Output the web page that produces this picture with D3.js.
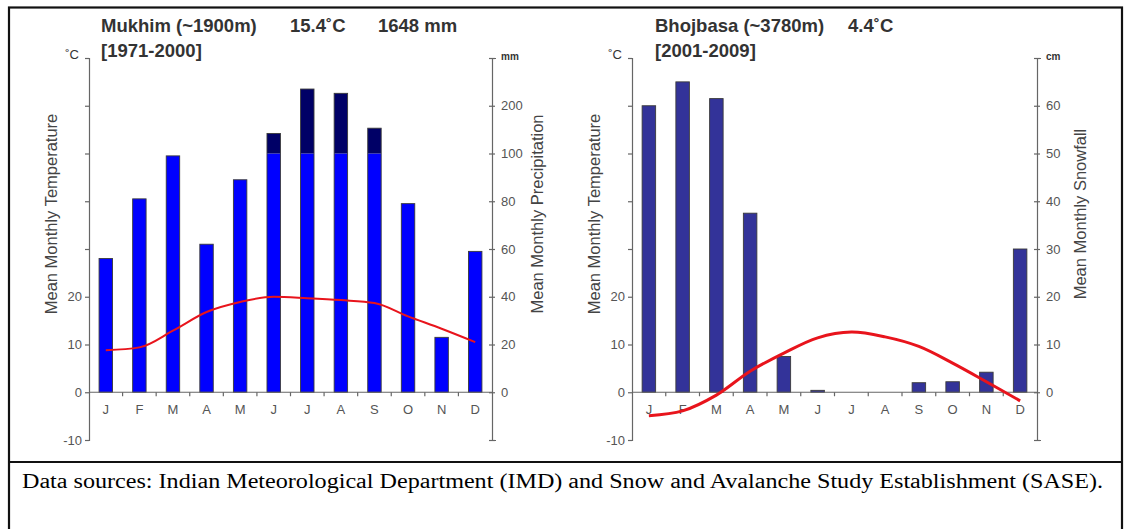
<!DOCTYPE html>
<html><head><meta charset="utf-8">
<script src="https://cdn.jsdelivr.net/npm/d3@7"></script>
<style>body{margin:0;background:#fff}svg{display:block}</style>
</head><body>
<svg id="c" width="1129" height="529"></svg>
<script>
// ---- data ----
const months = ["J","F","M","A","M","J","J","A","S","O","N","D"];
const mukhimPrecip = [56, 81, 99, 62, 89, 142, 235, 226, 153, 79, 23, 59];          // mm
const mukhimTemp   = [8.8, 9.4, 12.9, 16.8, 18.9, 20.0, 19.7, 19.3, 18.7, 15.9, 13.3, 10.5]; // °C
const bhojbasaSnow = [60, 65, 61.5, 37.5, 7.5, 0.4, 0, 0, 2, 2.2, 4.2, 30];           // cm
const bhojbasaTemp = [-4.9, -3.9, -0.6, 4.4, 8.2, 11.4, 12.6, 11.6, 9.6, 6.1, 2.2, -1.8]; // °C
const tempTicks   = [-10, 0, 10, 20, 30, 40, 50, 60, 70];
const tempLabels  = ["-10", "0", "10", "20", "", "", "", "", "˚C"];
const precipTicks = [-20, 0, 20, 40, 60, 80, 100, 200, 300];
const precipLabels= ["", "0", "20", "40", "60", "80", "100", "200", "mm"];
const snowTicks   = [-10, 0, 10, 20, 30, 40, 50, 60, 70];
const snowLabels  = ["", "0", "10", "20", "30", "40", "50", "60", "cm"];

const svg = d3.select("#c");
const FONT = "'Liberation Sans', Arial, sans-serif";
const GREY = "#555";

// outer frame
svg.append("rect").attr("x", 9).attr("y", 7.5).attr("width", 1113).attr("height", 530)
  .attr("fill", "none").attr("stroke", "#111").attr("stroke-width", 2.2);
svg.append("line").attr("x1", 9).attr("x2", 1122).attr("y1", 462).attr("y2", 462)
  .attr("stroke", "#111").attr("stroke-width", 2.2);
const foot = svg.append("text").attr("x", 22).attr("y", 488)
  .attr("font-family", "'Liberation Serif','Times New Roman',serif").attr("font-size", 20)
  .attr("fill", "#000")
  .text("Data sources: Indian Meteorological Department (IMD) and Snow and Avalanche Study Establishment (SASE).");
foot.attr("textLength", 1081).attr("lengthAdjust", "spacingAndGlyphs");

function panel(cfg) {
  const g = svg.append("g");
  const x = d3.scaleBand().domain(d3.range(12)).range([cfg.x0, cfg.x1])
    .paddingInner(0.6).paddingOuter(0.3);
  const yT = d3.scaleLinear().domain([-10, 70]).range([440, 58]);
  const yR = d3.scaleLinear().domain(cfg.rDomain).range(cfg.rDomain.map(cfg.rToT).map(yT));

  // bars
  cfg.bars.forEach((v, i) => {
    if (v <= 0) return;
    cfg.barParts(v).forEach(p => {
      g.append("rect").attr("x", x(i)).attr("width", x.bandwidth())
        .attr("y", yR(p.hi)).attr("height", yR(p.lo) - yR(p.hi))
        .attr("fill", p.color);
    });
    g.append("rect").attr("x", x(i)).attr("width", x.bandwidth())
      .attr("y", yR(v)).attr("height", yR(0) - yR(v))
      .attr("fill", "none").attr("stroke", "#3a3a3a").attr("stroke-width", 0.9);
  });

  // left axis
  const la = g.append("g").attr("transform", `translate(${cfg.x0},0)`)
    .call(d3.axisLeft(yT).tickValues(tempTicks).tickSize(4).tickPadding(3)
      .tickFormat((d, i) => tempLabels[i]));
  la.select(".domain").attr("stroke", "#666").attr("stroke-width", 1.2);
  la.selectAll(".tick line").attr("stroke", "#666").attr("stroke-width", 1.2);
  la.selectAll(".tick text").attr("font-family", FONT).attr("font-size", 13).attr("fill", GREY);
  la.selectAll(".tick").filter(d => d === 70).select("text")
    .attr("dy", "0.05em").attr("dx", "-3").attr("font-size", 13).attr("fill", "#333");

  // right axis
  const ra = g.append("g").attr("transform", `translate(${cfg.x1},0)`)
    .call(d3.axisRight(yR).tickValues(cfg.rTicks).tickSize(4).tickPadding(5)
      .tickFormat((d, i) => cfg.rLabels[i]));
  ra.select(".domain").attr("stroke", "#666").attr("stroke-width", 1.2);
  ra.selectAll(".tick line").attr("x1", -3).attr("x2", 3).attr("stroke", "#666").attr("stroke-width", 1.2);
  ra.selectAll(".tick text").attr("font-family", FONT).attr("font-size", 13).attr("fill", GREY);
  ra.selectAll(".tick").filter(d => d === cfg.rDomain[cfg.rDomain.length - 1]).select("text")
    .attr("font-size", 10).attr("font-weight", "bold").attr("dy", "0.1em").attr("fill", "#333");

  // x axis (zero line)
  const y0 = yT(0);
  g.append("line").attr("x1", cfg.x0).attr("x2", cfg.x1).attr("y1", y0).attr("y2", y0)
    .attr("stroke", "#666").attr("stroke-width", 1.2);
  d3.range(1, 12).forEach(i => {
    const bx = x(i) - x.step() * x.paddingInner() / 2;
    g.append("line").attr("x1", bx).attr("x2", bx).attr("y1", y0).attr("y2", y0 + 4)
      .attr("stroke", "#666").attr("stroke-width", 1.2);
  });
  months.forEach((m, i) => {
    g.append("text").attr("x", x(i) + x.bandwidth() / 2).attr("y", y0 + 22)
      .attr("text-anchor", "middle").attr("font-family", FONT).attr("font-size", 13)
      .attr("fill", GREY).text(m);
  });

  // axis titles
  g.append("text").attr("transform", `translate(${cfg.ltX},214) rotate(-90)`)
    .attr("text-anchor", "middle").attr("font-family", FONT).attr("font-size", 16.5)
    .attr("fill", "#444").text(cfg.lTitle);
  g.append("text").attr("transform", `translate(${cfg.rtX},214) rotate(-90)`)
    .attr("text-anchor", "middle").attr("font-family", FONT).attr("font-size", 16.5)
    .attr("fill", "#444").text(cfg.rTitle);

  // titles
  const t = g.append("text").attr("x", cfg.titleX).attr("y", 32)
    .attr("font-family", FONT).attr("font-size", 18.5).attr("font-weight", "bold").attr("fill", "#333");
  cfg.title.forEach(s => t.append("tspan").attr("x", cfg.titleX + s[1]).text(s[0]));
  g.append("text").attr("x", cfg.titleX).attr("y", 57)
    .attr("font-family", FONT).attr("font-size", 18.5).attr("font-weight", "bold").attr("fill", "#333")
    .text(cfg.sub);

  // temperature line
  const line = d3.line().x((d, i) => x(i) + x.bandwidth() / 2).y(d => yT(d)).curve(cfg.curve);
  g.append("path").datum(cfg.temp).attr("d", line).attr("fill", "none")
    .attr("stroke", "#e8141c").attr("stroke-width", cfg.lw).attr("stroke-linejoin", "round");
}

panel({
  x0: 89, x1: 492,
  bars: mukhimPrecip,
  rDomain: [-20, 100, 300],
  rToT: v => v <= 100 ? v / 2 : 50 + (v - 100) / 10,
  rTicks: precipTicks, rLabels: precipLabels,
  barParts: v => v > 100
    ? [{lo: 0, hi: 100, color: "#0000ff"}, {lo: 100, hi: v, color: "#000066"}]
    : [{lo: 0, hi: v, color: "#0000ff"}],
  temp: mukhimTemp, curve: d3.curveMonotoneX, lw: 2,
  ltX: 57, rtX: 543,
  lTitle: "Mean Monthly Temperature", rTitle: "Mean Monthly Precipitation",
  titleX: 101, title: [["Mukhim (~1900m)", 0], ["15.4˚C", 189], ["1648 mm", 277]],
  sub: "[1971-2000]"
});

panel({
  x0: 632, x1: 1037,
  bars: bhojbasaSnow,
  rDomain: [-10, 70],
  rToT: v => v,
  rTicks: snowTicks, rLabels: snowLabels,
  barParts: v => [{lo: 0, hi: v, color: "#333399"}],
  temp: bhojbasaTemp, curve: d3.curveCatmullRom, lw: 3,
  ltX: 600, rtX: 1086,
  lTitle: "Mean Monthly Temperature", rTitle: "Mean Monthly Snowfall",
  titleX: 655, title: [["Bhojbasa (~3780m)", 0], ["4.4˚C", 193]],
  sub: "[2001-2009]"
});
</script>
</body></html>
